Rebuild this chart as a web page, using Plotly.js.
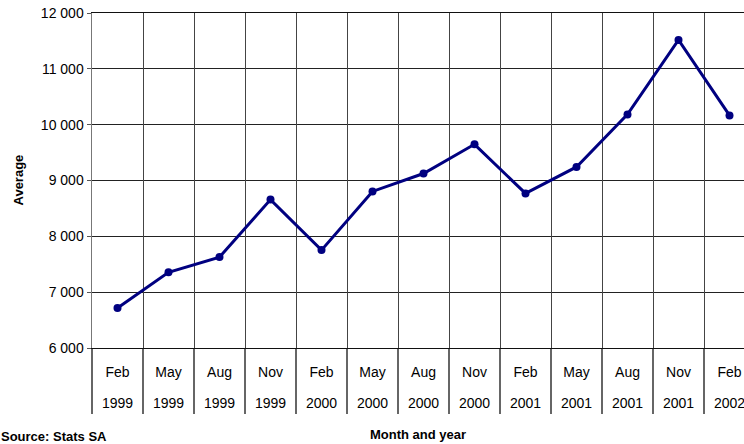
<!DOCTYPE html>
<html>
<head>
<meta charset="utf-8">
<script src="https://cdn.plot.ly/plotly-3.0.1.min.js"></script>
<style>
html,body{margin:0;padding:0;background:#fff;overflow:hidden;}
#chart{width:744px;height:444px;}
</style>
</head>
<body>
<div id="chart"></div>
<script>
// ---- data ----
var months = ['Feb','May','Aug','Nov','Feb','May','Aug','Nov','Feb','May','Aug','Nov','Feb'];
var years  = ['1999','1999','1999','1999','2000','2000','2000','2000','2001','2001','2001','2001','2002'];
var values = [6715, 7356, 7628, 8658, 7753, 8804, 9125, 9648, 8768, 9243, 10184, 11518, 10166];
var yTicks = [6000, 7000, 8000, 9000, 10000, 11000, 12000];

var categories = months.map(function(m, i){ return m + ' ' + years[i]; });
var centers = categories.map(function(c, i){ return i; });
var boundaries = [];
for (var i = 0; i <= categories.length; i++) boundaries.push(i - 0.5);

var FONT = 'Liberation Sans, Arial, Helvetica, sans-serif';
var xRange = [-0.5, 12.284];

// invisible helper traces so the overlay axes (years row, grid/separators) are drawn
var helperYears = {
  type: 'scatter', mode: 'lines', x: centers, y: values, xaxis: 'x2', yaxis: 'y',
  line: {width: 0, color: 'rgba(0,0,0,0)'}, opacity: 0, hoverinfo: 'skip', showlegend: false
};
var helperGrid = {
  type: 'scatter', mode: 'lines', x: centers, y: values, xaxis: 'x3', yaxis: 'y',
  line: {width: 0, color: 'rgba(0,0,0,0)'}, opacity: 0, hoverinfo: 'skip', showlegend: false
};

var trace = {
  type: 'scatter',
  mode: 'lines+markers',
  x: categories,
  y: values,
  xaxis: 'x',
  yaxis: 'y',
  line: {color: '#000080', width: 3},
  marker: {color: '#000080', size: 8},
  hoverinfo: 'x+y',
  cliponaxis: false
};

var layout = {
  width: 744,
  height: 444,
  margin: {l: 92, r: 0, t: 13, b: 96, pad: 0},
  paper_bgcolor: '#ffffff',
  plot_bgcolor: '#ffffff',
  showlegend: false,
  separators: '. ',
  font: {family: FONT, size: 14, color: '#000'},
  xaxis3: {
    anchor: 'y',
    overlaying: 'x',
    side: 'bottom',
    type: 'linear',
    range: xRange,
    showgrid: true,
    gridcolor: '#444444',
    gridwidth: 1,
    zeroline: false,
    showline: true,
    mirror: true,
    linecolor: '#111111',
    linewidth: 1,
    ticks: 'outside',
    ticklen: 65,
    tickwidth: 1.5,
    tickcolor: '#666666',
    tickmode: 'array',
    tickvals: boundaries,
    showticklabels: false,
    fixedrange: true
  },
  xaxis: {
    type: 'category',
    categoryarray: categories,
    range: xRange,
    showgrid: false,
    zeroline: false,
    showline: false,
    ticks: '',
    tickvals: categories,
    ticktext: months,
    tickfont: {family: FONT, size: 14, color: '#000'},
    ticklabelstandoff: 14,
    ticklabeloverflow: 'allow',
    fixedrange: true
  },
  xaxis2: {
    overlaying: 'x',
    anchor: 'y',
    side: 'bottom',
    type: 'linear',
    range: xRange,
    showgrid: false,
    zeroline: false,
    showline: false,
    ticks: '',
    tickmode: 'array',
    tickvals: centers,
    ticktext: years,
    tickfont: {family: FONT, size: 14, color: '#000'},
    ticklabelstandoff: 45,
    ticklabeloverflow: 'allow',
    fixedrange: true
  },
  yaxis: {
    range: [yTicks[0], yTicks[yTicks.length - 1]],
    tickmode: 'array',
    tickvals: yTicks,
    tickformat: ',d',
    ticks: 'outside',
    ticklen: 4,
    tickwidth: 1,
    tickcolor: '#555555',
    showgrid: true,
    gridcolor: '#222222',
    gridwidth: 1,
    zeroline: false,
    showline: true,
    linecolor: '#777777',
    linewidth: 1.5,
    tickfont: {family: FONT, size: 14, color: '#000'},
    fixedrange: true
  },
  annotations: [
    {
      text: '<b>Average</b>',
      textangle: -90,
      xref: 'paper', yref: 'paper',
      x: (18 - 92) / 652, y: 0.5,
      xanchor: 'center', yanchor: 'middle',
      showarrow: false,
      font: {family: FONT, size: 13, color: '#000'}
    },
    {
      text: '<b>Month and year</b>',
      xref: 'paper', yref: 'paper',
      x: 0.5, y: (348 - 435) / 335,
      xanchor: 'center', yanchor: 'middle',
      showarrow: false,
      font: {family: FONT, size: 13, color: '#000'}
    },
    {
      text: '<b>Source: Stats SA</b>',
      xref: 'paper', yref: 'paper',
      x: -92 / 652, y: (348 - 428) / 335,
      xanchor: 'left', yanchor: 'top',
      showarrow: false,
      borderpad: 0,
      font: {family: FONT, size: 13, color: '#000'}
    }
  ]
};

Plotly.newPlot('chart', [helperGrid, helperYears, trace], layout, {displayModeBar: false, staticPlot: true});
</script>
</body>
</html>
